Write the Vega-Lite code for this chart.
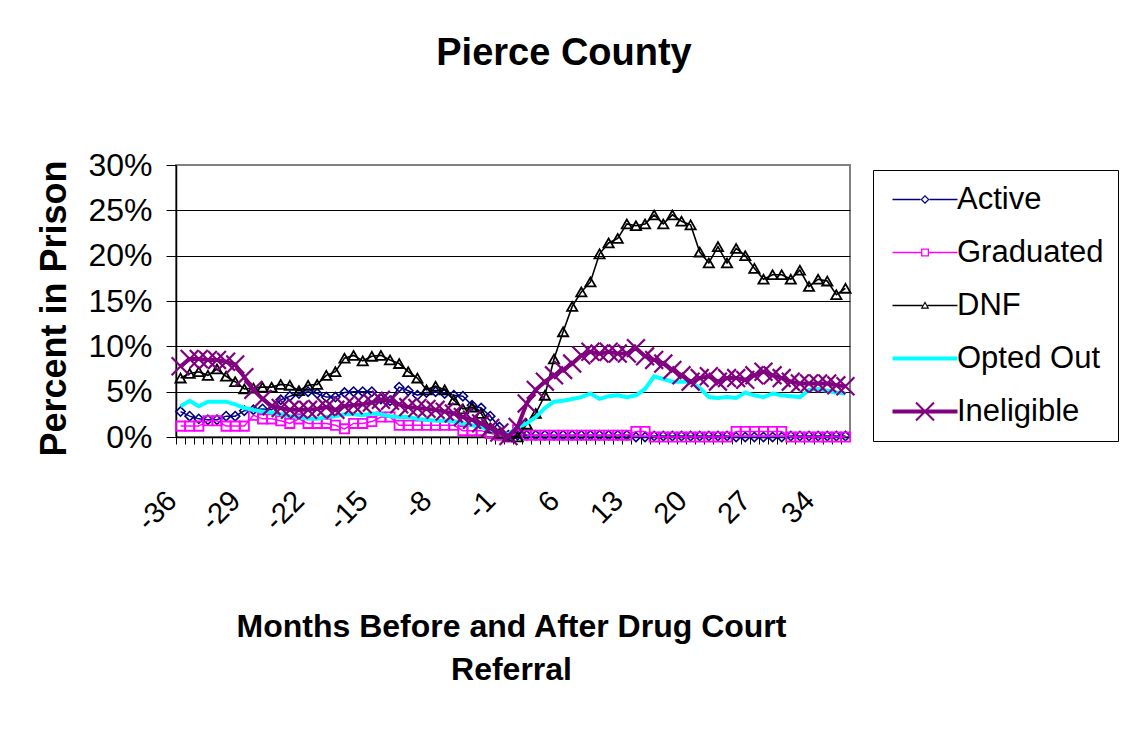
{
  "$schema": "https://vega.github.io/schema/vega-lite/v6.json",
  "width": 674,
  "height": 272,
  "autosize": {"type": "none"},
  "padding": {"left": 176, "top": 165, "right": 271, "bottom": 303},
  "background": "white",
  "title": {"text": "Pierce County", "font": "Liberation Sans", "fontSize": 38, "fontWeight": "bold", "color": "black", "anchor": "middle", "frame": "group", "dx": 51, "baseline": "alphabetic", "offset": 46},
  "config": {
    "font": "Liberation Sans",
    "view": {"stroke": "#808080", "strokeWidth": 2},
    "axis": {"domainColor": "black", "tickColor": "black", "labelColor": "black", "titleColor": "black", "labelFont": "Liberation Sans", "titleFont": "Liberation Sans"}
  },
  "datasets": {
    "Active": [{"m":-36,"v":2.8},{"m":-35,"v":2.3},{"m":-34,"v":2.0},{"m":-33,"v":1.9},{"m":-32,"v":1.9},{"m":-31,"v":2.3},{"m":-30,"v":2.3},{"m":-29,"v":2.9},{"m":-28,"v":3.0},{"m":-27,"v":3.1},{"m":-26,"v":3.0},{"m":-25,"v":4.1},{"m":-24,"v":4.5},{"m":-23,"v":4.8},{"m":-22,"v":5.0},{"m":-21,"v":4.8},{"m":-20,"v":4.4},{"m":-19,"v":4.4},{"m":-18,"v":4.9},{"m":-17,"v":5.0},{"m":-16,"v":5.0},{"m":-15,"v":5.0},{"m":-14,"v":4.2},{"m":-13,"v":4.0},{"m":-12,"v":5.5},{"m":-11,"v":5.1},{"m":-10,"v":4.6},{"m":-9,"v":4.9},{"m":-8,"v":5.0},{"m":-7,"v":4.8},{"m":-6,"v":4.6},{"m":-5,"v":4.5},{"m":-4,"v":3.5},{"m":-3,"v":3.2},{"m":-2,"v":2.3},{"m":-1,"v":1.1},{"m":0,"v":0.2},{"m":1,"v":0.2},{"m":2,"v":0.2},{"m":3,"v":0.2},{"m":4,"v":0.2},{"m":5,"v":0.2},{"m":6,"v":0.2},{"m":7,"v":0.2},{"m":8,"v":0.2},{"m":9,"v":0.2},{"m":10,"v":0.2},{"m":11,"v":0.2},{"m":12,"v":0.2},{"m":13,"v":0.2},{"m":14,"v":0},{"m":15,"v":0},{"m":16,"v":0.1},{"m":17,"v":0.1},{"m":18,"v":0.1},{"m":19,"v":0.1},{"m":20,"v":0.1},{"m":21,"v":0.1},{"m":22,"v":0.1},{"m":23,"v":0.1},{"m":24,"v":0.1},{"m":25,"v":0},{"m":26,"v":0},{"m":27,"v":0},{"m":28,"v":0},{"m":29,"v":0},{"m":30,"v":0},{"m":31,"v":0.1},{"m":32,"v":0.1},{"m":33,"v":0.1},{"m":34,"v":0.1},{"m":35,"v":0.1},{"m":36,"v":0.1},{"m":37,"v":0.1}],
    "Graduated": [{"m":-36,"v":1.2},{"m":-35,"v":1.2},{"m":-34,"v":1.2},{"m":-33,"v":1.8},{"m":-32,"v":1.8},{"m":-31,"v":1.2},{"m":-30,"v":1.2},{"m":-29,"v":1.2},{"m":-28,"v":2.4},{"m":-27,"v":2.0},{"m":-26,"v":2.0},{"m":-25,"v":1.8},{"m":-24,"v":1.5},{"m":-23,"v":2.0},{"m":-22,"v":1.5},{"m":-21,"v":1.5},{"m":-20,"v":1.5},{"m":-19,"v":1.3},{"m":-18,"v":0.9},{"m":-17,"v":1.5},{"m":-16,"v":1.5},{"m":-15,"v":1.7},{"m":-14,"v":2.2},{"m":-13,"v":2.2},{"m":-12,"v":1.3},{"m":-11,"v":1.3},{"m":-10,"v":1.3},{"m":-9,"v":1.3},{"m":-8,"v":1.3},{"m":-7,"v":1.3},{"m":-6,"v":1.3},{"m":-5,"v":0.7},{"m":-4,"v":0.7},{"m":-3,"v":0.7},{"m":-2,"v":0.4},{"m":-1,"v":0.2},{"m":0,"v":0},{"m":1,"v":0.8},{"m":2,"v":0.2},{"m":3,"v":0.2},{"m":4,"v":0.2},{"m":5,"v":0.2},{"m":6,"v":0.2},{"m":7,"v":0.2},{"m":8,"v":0.2},{"m":9,"v":0.2},{"m":10,"v":0.2},{"m":11,"v":0.2},{"m":12,"v":0.2},{"m":13,"v":0.2},{"m":14,"v":0.6},{"m":15,"v":0.6},{"m":16,"v":0},{"m":17,"v":0},{"m":18,"v":0},{"m":19,"v":0},{"m":20,"v":0},{"m":21,"v":0},{"m":22,"v":0},{"m":23,"v":0},{"m":24,"v":0},{"m":25,"v":0.6},{"m":26,"v":0.6},{"m":27,"v":0.6},{"m":28,"v":0.6},{"m":29,"v":0.6},{"m":30,"v":0.6},{"m":31,"v":0},{"m":32,"v":0},{"m":33,"v":0},{"m":34,"v":0},{"m":35,"v":0},{"m":36,"v":0},{"m":37,"v":0}],
    "DNF": [{"m":-36,"v":6.5},{"m":-35,"v":7.0},{"m":-34,"v":7.2},{"m":-33,"v":6.8},{"m":-32,"v":7.5},{"m":-31,"v":6.7},{"m":-30,"v":6.1},{"m":-29,"v":5.3},{"m":-28,"v":5.4},{"m":-27,"v":5.5},{"m":-26,"v":5.5},{"m":-25,"v":5.8},{"m":-24,"v":5.7},{"m":-23,"v":5.1},{"m":-22,"v":5.7},{"m":-21,"v":5.8},{"m":-20,"v":6.8},{"m":-19,"v":7.2},{"m":-18,"v":8.7},{"m":-17,"v":9.0},{"m":-16,"v":8.4},{"m":-15,"v":8.9},{"m":-14,"v":9.0},{"m":-13,"v":8.5},{"m":-12,"v":8.1},{"m":-11,"v":7.2},{"m":-10,"v":6.5},{"m":-9,"v":5.2},{"m":-8,"v":5.6},{"m":-7,"v":5.2},{"m":-6,"v":4.1},{"m":-5,"v":3.1},{"m":-4,"v":3.3},{"m":-3,"v":2.6},{"m":-2,"v":1.0},{"m":-1,"v":0.4},{"m":0,"v":0.1},{"m":1,"v":0.0},{"m":2,"v":1.4},{"m":3,"v":2.6},{"m":4,"v":4.6},{"m":5,"v":8.6},{"m":6,"v":11.6},{"m":7,"v":14.4},{"m":8,"v":16.0},{"m":9,"v":17.1},{"m":10,"v":20.2},{"m":11,"v":21.4},{"m":12,"v":21.9},{"m":13,"v":23.5},{"m":14,"v":23.3},{"m":15,"v":23.5},{"m":16,"v":24.5},{"m":17,"v":23.5},{"m":18,"v":24.5},{"m":19,"v":23.8},{"m":20,"v":23.4},{"m":21,"v":20.4},{"m":22,"v":19.2},{"m":23,"v":21.0},{"m":24,"v":19.2},{"m":25,"v":20.8},{"m":26,"v":20.0},{"m":27,"v":18.6},{"m":28,"v":17.4},{"m":29,"v":17.9},{"m":30,"v":17.9},{"m":31,"v":17.4},{"m":32,"v":18.4},{"m":33,"v":16.6},{"m":34,"v":17.4},{"m":35,"v":17.2},{"m":36,"v":15.7},{"m":37,"v":16.4}],
    "OptedOut": [{"m":-36,"v":3.4},{"m":-35,"v":4.0},{"m":-34,"v":3.4},{"m":-33,"v":3.9},{"m":-32,"v":3.9},{"m":-31,"v":3.9},{"m":-30,"v":3.6},{"m":-29,"v":3.2},{"m":-28,"v":3.0},{"m":-27,"v":2.8},{"m":-26,"v":2.7},{"m":-25,"v":2.5},{"m":-24,"v":2.3},{"m":-23,"v":2.2},{"m":-22,"v":2.0},{"m":-21,"v":2.0},{"m":-20,"v":2.2},{"m":-19,"v":2.3},{"m":-18,"v":2.5},{"m":-17,"v":2.5},{"m":-16,"v":2.4},{"m":-15,"v":2.6},{"m":-14,"v":2.5},{"m":-13,"v":2.3},{"m":-12,"v":2.2},{"m":-11,"v":2.2},{"m":-10,"v":2.0},{"m":-9,"v":1.9},{"m":-8,"v":1.8},{"m":-7,"v":1.8},{"m":-6,"v":1.7},{"m":-5,"v":1.5},{"m":-4,"v":1.3},{"m":-3,"v":1.1},{"m":-2,"v":0.8},{"m":-1,"v":0.5},{"m":0,"v":0.3},{"m":1,"v":1.1},{"m":2,"v":1.5},{"m":3,"v":2.2},{"m":4,"v":3.2},{"m":5,"v":3.9},{"m":6,"v":4.0},{"m":7,"v":4.2},{"m":8,"v":4.4},{"m":9,"v":4.8},{"m":10,"v":4.2},{"m":11,"v":4.5},{"m":12,"v":4.6},{"m":13,"v":4.4},{"m":14,"v":4.6},{"m":15,"v":5.3},{"m":16,"v":6.7},{"m":17,"v":6.4},{"m":18,"v":6.1},{"m":19,"v":6.1},{"m":20,"v":6.1},{"m":21,"v":5.4},{"m":22,"v":4.4},{"m":23,"v":4.3},{"m":24,"v":4.4},{"m":25,"v":4.3},{"m":26,"v":4.9},{"m":27,"v":4.6},{"m":28,"v":4.4},{"m":29,"v":4.8},{"m":30,"v":4.6},{"m":31,"v":4.5},{"m":32,"v":4.4},{"m":33,"v":5.2},{"m":34,"v":5.3},{"m":35,"v":5.1},{"m":36,"v":4.9},{"m":37,"v":4.8}],
    "Ineligible": [{"m":-36,"v":7.8},{"m":-35,"v":8.6},{"m":-34,"v":8.6},{"m":-33,"v":8.5},{"m":-32,"v":8.5},{"m":-31,"v":8.3},{"m":-30,"v":8.0},{"m":-29,"v":6.6},{"m":-28,"v":5.2},{"m":-27,"v":4.2},{"m":-26,"v":3.4},{"m":-25,"v":3.2},{"m":-24,"v":3.0},{"m":-23,"v":3.0},{"m":-22,"v":3.0},{"m":-21,"v":3.1},{"m":-20,"v":3.3},{"m":-19,"v":3.0},{"m":-18,"v":3.4},{"m":-17,"v":3.5},{"m":-16,"v":3.6},{"m":-15,"v":3.8},{"m":-14,"v":4.1},{"m":-13,"v":4.0},{"m":-12,"v":3.6},{"m":-11,"v":3.3},{"m":-10,"v":3.2},{"m":-9,"v":3.1},{"m":-8,"v":3.0},{"m":-7,"v":2.8},{"m":-6,"v":2.6},{"m":-5,"v":2.2},{"m":-4,"v":1.9},{"m":-3,"v":1.5},{"m":-2,"v":1.0},{"m":-1,"v":0.5},{"m":0,"v":0.1},{"m":1,"v":1.1},{"m":2,"v":3.7},{"m":3,"v":5.2},{"m":4,"v":6.1},{"m":5,"v":6.8},{"m":6,"v":7.4},{"m":7,"v":8.1},{"m":8,"v":9.0},{"m":9,"v":9.4},{"m":10,"v":9.2},{"m":11,"v":9.4},{"m":12,"v":9.2},{"m":13,"v":9.2},{"m":14,"v":9.8},{"m":15,"v":8.9},{"m":16,"v":8.5},{"m":17,"v":8.1},{"m":18,"v":7.4},{"m":19,"v":6.8},{"m":20,"v":6.1},{"m":21,"v":6.5},{"m":22,"v":6.7},{"m":23,"v":6.1},{"m":24,"v":6.5},{"m":25,"v":6.5},{"m":26,"v":6.3},{"m":27,"v":6.8},{"m":28,"v":7.2},{"m":29,"v":6.8},{"m":30,"v":6.5},{"m":31,"v":6.1},{"m":32,"v":5.9},{"m":33,"v":5.9},{"m":34,"v":5.9},{"m":35,"v":5.9},{"m":36,"v":5.7},{"m":37,"v":5.6}],
    "legend": [{"s":"Active"},{"s":"Graduated"},{"s":"DNF"},{"s":"Opted Out"},{"s":"Ineligible"}]
  },
  "encoding": {
    "x": {"field": "m", "type": "quantitative", "scale": {"domain": [-36.5, 37.5], "nice": false, "zero": false},
      "axis": {"values": [-36,-35,-34,-33,-32,-31,-30,-29,-28,-27,-26,-25,-24,-23,-22,-21,-20,-19,-18,-17,-16,-15,-14,-13,-12,-11,-10,-9,-8,-7,-6,-5,-4,-3,-2,-1,0,1,2,3,4,5,6,7,8,9,10,11,12,13,14,15,16,17,18,19,20,21,22,23,24,25,26,27,28,29,30,31,32,33,34,35,36,37,38],
        "labelExpr": "(datum.value + 36) % 7 === 0 ? '' + datum.value : ''",
        "labelAngle": -45, "labelAlign": "right", "labelBaseline": "alphabetic", "labelFontSize": 29, "labelPadding": 58,
        "labelOverlap": false, "labelFlush": false, "labelBound": false,
        "tickSize": 7, "tickOffset": -4.554, "labelOffset": 2, "grid": false, "domainWidth": 1.5,
        "title": ["Months Before and After Drug Court", "Referral"], "titleFontSize": 32, "titleFontWeight": "bold",
        "titleX": 335, "titleY": 199, "titleBaseline": "alphabetic", "titleAlign": "center", "titleLineHeight": 43}},
    "y": {"field": "v", "type": "quantitative", "scale": {"domain": [0, 30], "nice": false, "zero": true},
      "axis": {"values": [0, 5, 10, 15, 20, 25, 30], "labelExpr": "datum.value + '%'", "labelFontSize": 32, "labelPadding": 14, "tickSize": 10,
        "grid": true, "gridColor": {"condition": {"test": "datum.value === 30", "value": "#808080"}, "value": "black"}, "gridWidth": 1,
        "domainWidth": 1.5, "title": "Percent in Prison", "titleFontSize": 36, "titleFontWeight": "bold",
        "titleX": -111, "titleY": 143, "titleBaseline": "alphabetic", "titleAlign": "center", "titleAngle": -90}}
  },
  "layer": [
    {"data": {"name": "Active"}, "mark": {"type": "line", "color": "#000080", "strokeWidth": 1.5}},
    {"data": {"name": "Active"}, "mark": {"type": "point", "shape": "diamond", "size": 85, "color": "#000080", "filled": false, "strokeWidth": 1.6, "opacity": 1}},
    {"data": {"name": "Graduated"}, "mark": {"type": "line", "color": "#FF00FF", "strokeWidth": 1.5}},
    {"data": {"name": "Graduated"}, "mark": {"type": "point", "shape": "square", "size": 85, "color": "#FF00FF", "filled": false, "strokeWidth": 1.8, "opacity": 1}},
    {"data": {"name": "DNF"}, "mark": {"type": "line", "color": "#000000", "strokeWidth": 1.6}},
    {"data": {"name": "DNF"}, "mark": {"type": "point", "shape": "triangle-up", "size": 105, "color": "#000000", "filled": false, "strokeWidth": 1.8, "opacity": 1}},
    {"data": {"name": "OptedOut"}, "mark": {"type": "line", "color": "#00FFFF", "strokeWidth": 4}},
    {"data": {"name": "Ineligible"}, "mark": {"type": "line", "color": "#800080", "strokeWidth": 4}},
    {"data": {"name": "Ineligible"}, "mark": {"type": "point", "shape": "M-1,-1L1,1M-1,1L1,-1", "size": 320, "color": "#800080", "filled": false, "strokeWidth": 2.2, "opacity": 1}},
    {"data": {"name": "legend"}, "mark": {"type": "point", "filled": true, "opacity": 1},
      "encoding": {
        "color": {"field": "s", "type": "nominal",
          "scale": {"domain": ["Active", "Graduated", "DNF", "Opted Out", "Ineligible"], "range": ["#000080", "#FF00FF", "#000000", "#00FFFF", "#800080"]},
          "legend": {"orient": "none", "legendX": 697, "legendY": 5, "title": null, "padding": 14, "rowPadding": 21, "labelFontSize": 31, "labelFont": "Liberation Sans", "labelColor": "black", "labelLimit": 300, "symbolSize": 400, "labelOffset": 39, "strokeColor": "black", "fillColor": "white", "symbolStrokeWidth": 0, "cornerRadius": 0}},
        "shape": {"field": "s", "type": "nominal",
          "scale": {"domain": ["Active", "Graduated", "DNF", "Opted Out", "Ineligible"], "range": [
            "M-1,-0.075H1.8V0.075H-1ZM2.7,-0.075H5.5V0.075H2.7ZM2.25,-0.45L2.7,0L2.25,0.45L1.8,0ZM2.25,-0.28L1.97,0L2.25,0.28L2.53,0Z",
            "M-1,-0.075H1.85V0.075H-1ZM2.65,-0.075H5.5V0.075H2.65ZM1.85,-0.4H2.65V0.4H1.85ZM1.98,-0.27V0.27H2.52V-0.27Z",
            "M-1,-0.075H2V0.075H-1ZM2.5,-0.075H5.5V0.075H2.5ZM2.25,-0.42L2.67,0.33L1.83,0.33ZM2.25,-0.2L2.02,0.2L2.48,0.2Z",
            "M-1,-0.2H5.5V0.2H-1Z",
            "M-1,-0.2H5.5V0.2H-1ZM1.42,-0.97L3.22,0.83L3.08,0.97L1.28,-0.83ZM1.42,0.97L1.28,0.83L3.08,-0.97L3.22,-0.83Z"]},
          "legend": {"orient": "none", "legendX": 697, "legendY": 5, "title": null, "padding": 14, "rowPadding": 21, "labelFontSize": 31, "labelFont": "Liberation Sans", "labelColor": "black", "labelLimit": 300, "symbolSize": 400, "labelOffset": 39, "strokeColor": "black", "fillColor": "white", "symbolStrokeWidth": 0, "cornerRadius": 0}}
      }}
  ]
}
